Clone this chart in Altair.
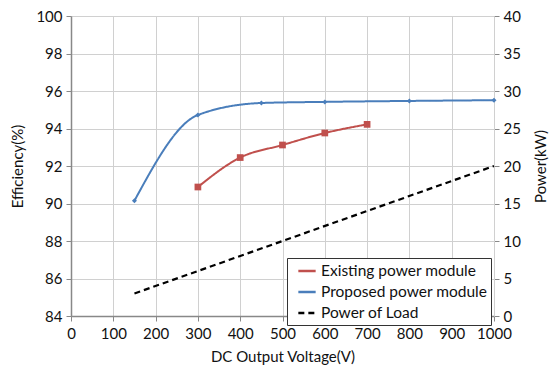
import altair as alt
import pandas as pd

series_names = ["Existing power module", "Proposed power module", "Power of Load"]

existing_v = [300, 400, 500, 600, 700]
existing_eff = [90.88, 92.45, 93.12, 93.76, 94.22]

proposed_v = [150, 300, 450, 600, 800, 1000]
proposed_eff = [90.15, 94.72, 95.36, 95.42, 95.47, 95.51]

load_v = [150, 1000]
load_kw = [3, 20]

eff_df = pd.DataFrame({
    "V": existing_v + proposed_v,
    "eff": existing_eff + proposed_eff,
    "series": [series_names[0]] * len(existing_v) + [series_names[1]] * len(proposed_v),
})
load_df = pd.DataFrame({"V": load_v, "kw": load_kw, "series": [series_names[2]] * len(load_v)})

colors = ["#c0504d", "#4a7ebb", "#000000"]
FONT = "Lato"

x_enc = alt.X("V:Q", scale=alt.Scale(domain=[0, 1000], nice=False),
              axis=alt.Axis(values=list(range(0, 1001, 100)), title="DC Output Voltage(V)",
                            format="d", labelOverlap=False, labelFlush=False,
                            grid=True, tickSize=5, labelPadding=5, titlePadding=8))

color_enc = alt.Color("series:N", scale=alt.Scale(domain=series_names, range=colors),
                      legend=alt.Legend(title=None, orient="none", legendX=216, legendY=242,
                                        strokeColor="#333", fillColor="white", padding=3,
                                        symbolType="stroke", symbolSize=300, symbolStrokeWidth=2.5,
                                        symbolOffset=7, labelFontSize=15.5, labelFont=FONT,
                                        labelColor="#111", labelOffset=4, rowPadding=2, labelLimit=300))
dash_enc = alt.StrokeDash("series:N", scale=alt.Scale(domain=series_names, range=[[1, 0], [1, 0], [6, 4]]),
                          legend=alt.Legend(title=None, orient="none", legendX=216, legendY=242))

y_left = alt.Y("eff:Q", scale=alt.Scale(domain=[84, 100], nice=False),
               axis=alt.Axis(values=list(range(84, 101, 2)), title="Efficiency(%)", grid=True,
                             format="d", labelOverlap=False, labelFlush=False,
                             titleX=-54, titleY=150, titleAngle=270, titleAlign="center",
                             titleBaseline="middle",
                             tickSize=5, labelPadding=4))

lines = alt.Chart(eff_df).mark_line(interpolate="monotone", strokeWidth=2).encode(
    x=x_enc, y=y_left, color=color_enc, strokeDash=dash_enc)

red_pts = alt.Chart(eff_df).transform_filter(alt.datum.series == series_names[0]).mark_point(
    shape="square", filled=True, size=45, color=colors[0], opacity=1).encode(x=x_enc, y=y_left)
blue_pts = alt.Chart(eff_df).transform_filter(alt.datum.series == series_names[1]).mark_point(
    shape="diamond", filled=True, size=25, color=colors[1], opacity=1).encode(x=x_enc, y=y_left)

left = alt.layer(lines, red_pts, blue_pts)

power = alt.Chart(load_df).mark_line(strokeWidth=2.2).encode(
    x=x_enc,
    y=alt.Y("kw:Q", scale=alt.Scale(domain=[0, 40], nice=False),
            axis=alt.Axis(orient="right", values=list(range(0, 41, 5)), title="Power(kW)", grid=False,
                          format="d", labelOverlap=False, labelFlush=False,
                          domainColor="#d0d0d0", domainWidth=1,
                          titleX=46, titleY=150, titleAngle=270, titleAlign="center",
                          titleBaseline="middle",
                          tickSize=5, labelPadding=4)),
    color=color_enc, strokeDash=dash_enc)

chart = alt.layer(left, power).resolve_scale(y="independent").properties(
    width=423, height=300,
    padding={"left": 71, "top": 16, "right": 56, "bottom": 57},
    autosize=alt.AutoSizeParams(type="none"),
    background="white",
).configure_view(stroke=None).configure_axis(
    labelFont=FONT, titleFont=FONT, labelFontSize=15, titleFontSize=15,
    labelColor="#111", titleColor="#111", titleFontWeight="normal",
    gridColor="#d0d0d0", gridWidth=1, domainColor="#888", tickColor="#888", domainWidth=1.5,
)

chart.save("out.html", embed_options={"renderer": "svg", "actions": False})
